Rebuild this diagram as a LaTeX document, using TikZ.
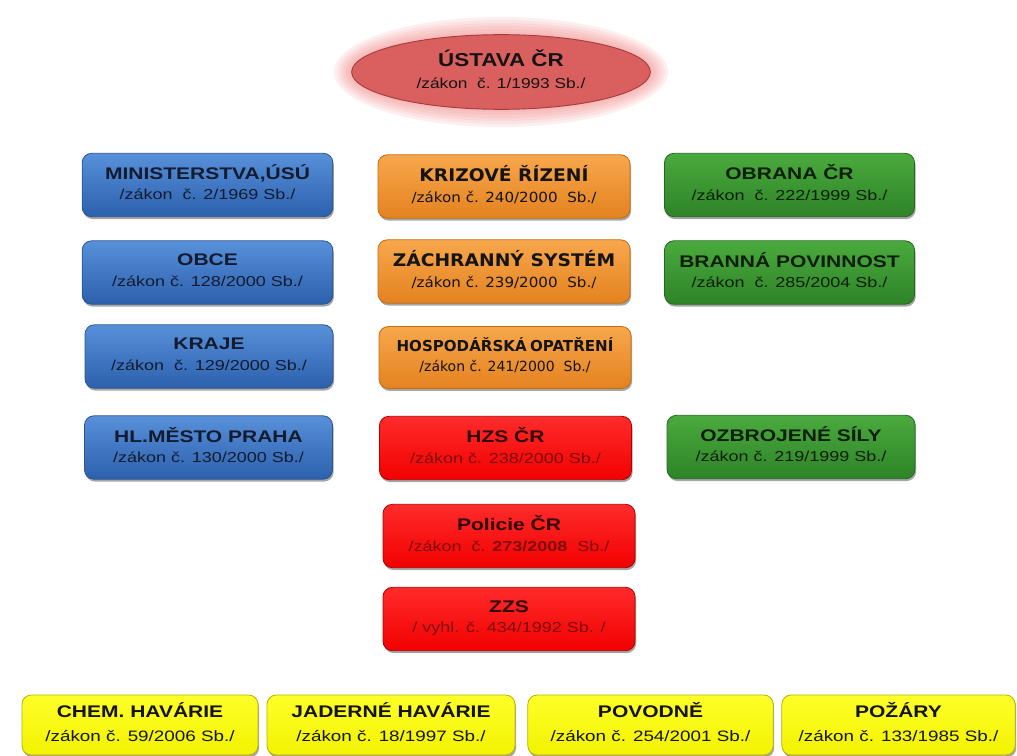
\documentclass[tikz,border=0pt]{standalone}
\usepackage{fontspec}
\setmainfont{Liberation Sans}
\newfontfamily\tahfont{DejaVu Sans}
\usepackage{graphicx}
\usetikzlibrary{shapes.geometric,shadows}

\definecolor{bTop}{HTML}{5890DA}
\definecolor{bBot}{HTML}{2C60AC}
\definecolor{bDraw}{HTML}{2A558F}
\definecolor{oTop}{HTML}{F7A74C}
\definecolor{oBot}{HTML}{E4821F}
\definecolor{oDraw}{HTML}{C26C14}
\definecolor{gTop}{HTML}{4AAA3E}
\definecolor{gBot}{HTML}{2E8327}
\definecolor{gDraw}{HTML}{24681F}
\definecolor{rTop}{HTML}{FF2B2B}
\definecolor{rBot}{HTML}{F20000}
\definecolor{rDraw}{HTML}{B00000}
\definecolor{yTop}{HTML}{FFFF2A}
\definecolor{yBot}{HTML}{F2F200}
\definecolor{yDraw}{HTML}{B5B500}
\definecolor{elFill}{HTML}{D9605E}
\definecolor{elDraw}{HTML}{A43E3E}
\definecolor{glowc}{HTML}{F07E7E}
\definecolor{txtDark}{HTML}{141414}
\definecolor{txtBlue}{HTML}{131B2E}
\definecolor{txtGreen}{HTML}{0E1E0A}
\definecolor{txtRedT}{HTML}{2E0404}
\definecolor{txtRedS}{HTML}{7E0C0C}

\newcommand\ttl{\fontsize{12.6}{13}\selectfont\bfseries}
\newcommand\sbt{\fontsize{10.8}{12}\selectfont}
\newcommand\ysbt{\fontsize{11.3}{12}\selectfont}
\newcommand\ottl{\tahfont\fontsize{13}{13}\selectfont\bfseries}
\newcommand\osbt{\tahfont\fontsize{10.5}{12}\selectfont}
% #1 xscale, #2 baselineskip, #3 first line, #4 second line, #5 extra gap
\newcommand\lines[5]{\scalebox{#1}[1]{\fontsize{10}{#2}\selectfont
  \begin{tabular}{@{}c@{}}#3\\[#5]#4\end{tabular}}}

\tikzset{
  box/.style={rounded corners=7pt, inner sep=0pt, minimum height=47.5pt,
    line width=0.6pt, align=center,
    drop shadow={shadow xshift=0.8pt, shadow yshift=-1.8pt, opacity=0.35, fill=black}},
  bluebox/.style={box, top color=bTop, bottom color=bBot, draw=bDraw, minimum width=188pt},
  orangebox/.style={box, top color=oTop, bottom color=oBot, draw=oDraw, minimum width=189pt},
  greenbox/.style={box, top color=gTop, bottom color=gBot, draw=gDraw, minimum width=187.5pt},
  redbox/.style={box, top color=rTop, bottom color=rBot, draw=rDraw, minimum width=189pt},
  yellowbox/.style={box, top color=yTop, bottom color=yBot, draw=yDraw, minimum height=45pt},
  ustava/.style={ellipse, fill=elFill, draw=elDraw, line width=0.7pt,
    minimum width=224pt, minimum height=56pt, inner sep=0pt, align=center}
}

\begin{document}
\begin{tikzpicture}[x=0.75pt,y=-0.75pt]
\useasboundingbox (0,0) rectangle (1017,756);

% glow around the ellipse
\foreach \r in {18,15,12,9,6,3}
  \fill[glowc, opacity=0.12] (501,72) ellipse [x radius=149+\r, y radius=37+\r];

\node[ustava] (ustava) at (501,72)
  {\lines{1.2}{16.5}{\color{txtDark}\fontsize{14}{14}\selectfont\bfseries ÚSTAVA ČR}
                   {\color{txtDark}\sbt /zákon\ \ č. 1/1993 Sb./}{0pt}};

% blue column
\node[bluebox] (min) at (207.5,185)
  {\lines{1.25}{13.2}{\color{txtBlue}\ttl MINISTERSTVA,ÚSÚ}{\color{txtBlue}\sbt /zákon\ \ č. 2/1969 Sb./}{2pt}};
\node[bluebox] (obce) at (207.5,272.5)
  {\lines{1.25}{13.2}{\color{txtBlue}\ttl OBCE}{\color{txtBlue}\sbt /zákon č. 128/2000 Sb./}{2pt}};
\node[bluebox, minimum width=186pt] (kraje) at (209,356.5)
  {\lines{1.25}{13.2}{\color{txtBlue}\ttl KRAJE}{\color{txtBlue}\sbt /zákon\ \ č. 129/2000 Sb./}{2pt}};
\node[bluebox, minimum width=186pt] (praha) at (208.5,447.5)
  {\lines{1.25}{13.2}{\color{txtBlue}\ttl HL.MĚSTO PRAHA}{\color{txtBlue}\sbt /zákon č. 130/2000 Sb./}{2pt}};

% orange column
\node[orangebox] (krizove) at (504,186.5)
  {\lines{1.08}{13.6}{\color{txtDark}\ottl KRIZOVÉ ŘÍZENÍ}{\color{txtDark}\osbt /zákon č. 240/2000\ \ Sb./}{2pt}};
\node[orangebox] (zachranny) at (504,271.5)
  {\lines{1.08}{13.6}{\color{txtDark}\ottl ZÁCHRANNÝ SYSTÉM}{\color{txtDark}\osbt /zákon č. 239/2000\ \ Sb./}{2pt}};
\node[orangebox, minimum height=46.5pt] (hosp) at (505,357.5)
  {\lines{1.0}{14.2}{\color{txtDark}\tahfont\fontsize{11.3}{12}\selectfont\bfseries HOSPODÁŘSKÁ\hspace{2.5pt}OPATŘENÍ}{\color{txtDark}\osbt /zákon č. 241/2000\ \ Sb./}{1pt}};

% red column
\node[redbox] (hzs) at (505.5,448)
  {\lines{1.25}{13.2}{\color{txtRedT}\ttl HZS ČR}{\color{txtRedS}\sbt /zákon č. 238/2000 Sb./}{2pt}};
\node[redbox] (policie) at (509,536)
  {\lines{1.25}{13.2}{\color{txtRedT}\ttl Policie ČR}{\color{txtRedS}\sbt /zákon\ \ č. \textbf{273/2008}\ \ Sb./}{2pt}};
\node[redbox] (zzs) at (509,619)
  {\lines{1.25}{13.2}{\color{txtRedT}\ttl ZZS}{\color{txtRedS}\sbt / vyhl. č. 434/1992 Sb. /}{2pt}};

% green column
\node[greenbox] (obrana) at (789.5,185)
  {\lines{1.25}{13.2}{\color{txtGreen}\ttl OBRANA ČR}{\color{txtGreen}\sbt /zákon\ \ č. 222/1999 Sb./}{2pt}};
\node[greenbox] (branna) at (789.5,272.5)
  {\lines{1.25}{13.2}{\color{txtGreen}\ttl BRANNÁ POVINNOST}{\color{txtGreen}\sbt /zákon\ \ č. 285/2004 Sb./}{2pt}};
\node[greenbox, minimum width=186pt] (ozbrojene) at (791,447)
  {\lines{1.25}{13.2}{\color{txtGreen}\ttl OZBROJENÉ SÍLY}{\color{txtGreen}\sbt /zákon č. 219/1999 Sb./}{2pt}};

% yellow row
\node[yellowbox, minimum width=177pt] (chem) at (140,725)
  {\lines{1.25}{15.5}{\color{txtDark}\ttl CHEM. HAVÁRIE}{\color{txtDark}\ysbt /zákon č. 59/2006 Sb./}{3pt}};
\node[yellowbox, minimum width=186pt] (jaderne) at (391,725)
  {\lines{1.25}{15.5}{\color{txtDark}\ttl JADERNÉ HAVÁRIE}{\color{txtDark}\ysbt /zákon č. 18/1997 Sb./}{3pt}};
\node[yellowbox, minimum width=184pt] (povodne) at (650.5,725)
  {\lines{1.25}{15.5}{\color{txtDark}\ttl POVODNĚ}{\color{txtDark}\ysbt /zákon č. 254/2001 Sb./}{3pt}};
\node[yellowbox, minimum width=175pt] (pozary) at (898.5,725)
  {\lines{1.25}{15.5}{\color{txtDark}\ttl POŽÁRY}{\color{txtDark}\ysbt /zákon č. 133/1985 Sb./}{3pt}};
\end{tikzpicture}
\end{document}
